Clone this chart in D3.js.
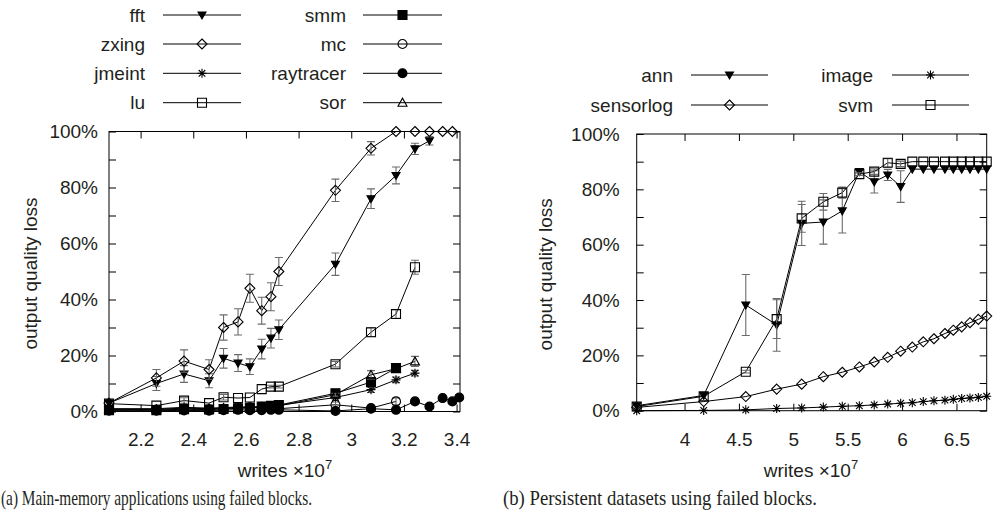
<!DOCTYPE html>
<html>
<head>
<meta charset="utf-8">
<script src="https://cdn.jsdelivr.net/npm/d3@7"></script>
<style>
body { margin: 0; background: #fff; }
svg { display: block; }
text { font-family: "Liberation Sans", Arial, sans-serif; fill: #231f20; }
.caption { font-family: "Liberation Serif", "Times New Roman", serif; }
</style>
</head>
<body>
<div id="chart"></div>
<script>
// ---- (a) main-memory applications ----
var writesMain = [2.08, 2.26, 2.365, 2.46, 2.515, 2.57, 2.615, 2.66, 2.695, 2.725, 2.94, 3.075, 3.17, 3.242, 3.297, 3.347, 3.384, 3.41];
var fftLoss = [3, 10, 13.4, 11, 19, 17.3, 16, 22.3, 26.2, 29.2, 52.6, 76, 84.3, 93.8, 96.7];
var fftErr = [0, 2.5, 3, 2.5, 3.5, 3, 2.8, 3.5, 3.5, 3.5, 4, 3.5, 3, 2, 1.5];
var zxingLoss = [3, 12, 18, 15, 30, 32, 44, 36, 41, 50, 79, 94, 100, 100, 100, 100, 100];
var zxingErr = [0, 3, 4, 3.5, 4.5, 4.7, 5, 4.8, 5, 5, 4, 2.4, 0, 0, 0, 0, 0];
var jmeintLoss = [1, 1, 1.5, 1.2, 1.4, 1.6, 1.6, 1.8, 2, 2.2, 5, 7.8, 11.3, 13.7];
var jmeintErr = [0, 0, 0, 0, 0, 0, 0, 0, 0, 0, 0.5, 1, 1, 1];
var luLoss = [2.8, 2.1, 3.9, 3, 5.1, 4.8, 5, 8, 8.9, 8.9, 16.9, 28.3, 34.8, 51.5];
var luErr = [0, 0, 1, 0, 1, 0, 0, 0, 0.5, 0.5, 1, 1.5, 1.5, 2.5];
var smmLoss = [0.5, 0.5, 0.8, 0.7, 0.9, 1.1, 1.3, 1.8, 2, 2.3, 6.5, 10.5, 15.5];
var smmErr = [0, 0, 0, 0, 0, 0, 0, 0, 0, 0, 0.5, 1, 1];
var mcLoss = [0.8, 0.7, 1, 0.8, 1, 1.5, 1.5, 1.2, 1, 1, 2.4, 1.2, 3.6];
var mcErr = [0, 0, 0, 0, 0, 0, 0, 0, 0, 0, 1, 0.5, 1.2];
var raytracerLoss = [0.3, 0.3, 0.4, 0.3, 0.5, 0.6, 0.5, 0.5, 0.6, 0.6, 0.2, 1, 0.6, 3.6, 1.8, 4.8, 3.6, 5];
var sorLoss = [0.8, 0.8, 1.2, 1, 1.2, 1.3, 1.4, 1.6, 1.8, 2, 6, 13.1, 15.3, 17.9];
var sorErr = [0, 0, 0, 0, 0, 0, 0, 0, 0, 0, 0.5, 1.5, 0, 1.8];
var ticksMain = [2.2, 2.4, 2.6, 2.8, 3, 3.2, 3.4];

// ---- (b) persistent datasets ----
var writesPersist = [3.56, 4.176, 4.563, 4.847, 5.077, 5.276, 5.45, 5.607, 5.744, 5.868, 5.987, 6.094, 6.195, 6.293, 6.394, 6.471, 6.548, 6.624, 6.701, 6.778];
var annLoss = [1.8, 5.5, 38.2, 31, 67.7, 68.2, 72.2, 86.4, 82.7, 85.2, 81, 87.3, 87.3, 87.3, 87.3, 87.3, 87.3, 87.3, 87.3, 87.3];
var annErr = [0, 0, 11, 9.5, 8, 8, 8, 0.5, 4, 2, 5.7, 0, 0, 0, 0, 0, 0, 0, 0, 0];
var sensorlogLoss = [1.2, 3.3, 5.1, 7.8, 9.6, 12.3, 13.9, 15.8, 17.6, 19.3, 21.5, 23, 24.9, 26, 27.9, 29.1, 30.3, 31.8, 33, 34.2];
var imageLoss = [0, 0.1, 0.3, 0.8, 1.0, 1.3, 1.6, 1.8, 2.1, 2.4, 2.7, 2.9, 3.3, 3.6, 3.8, 4.1, 4.4, 4.6, 4.8, 5.2];
var svmLoss = [1.5, 5.2, 14.1, 33.1, 69.5, 75.5, 78.8, 85.5, 86.4, 89.6, 89.2, 90, 90, 90, 90, 90, 90, 90, 90, 90];
var svmErr = [0, 0, 0.5, 7, 5, 3, 2, 0.5, 1, 1.5, 1, 0, 0, 0, 0, 0, 0, 0, 0, 0];
var ticksPersist = [4, 4.5, 5, 5.5, 6, 6.5];

var yTicks = [0, 10, 20, 30, 40, 50, 60, 70, 80, 90, 100];

var svg = d3.select("#chart").append("svg")
    .attr("width", 993)
    .attr("height", 518);

// marker paths, gnuplot-ish point types
var markers = {
    triDown:  {d: "M-4,-3L4,-3L0,4Z", fill: "#000"},
    diamond:  {d: "M0,-5L5,0L0,5L-5,0Z", fill: "none"},
    star:     {d: "M-4.5,0H4.5M0,-4.5V4.5M-3.3,-3.3L3.3,3.3M-3.3,3.3L3.3,-3.3", fill: "none"},
    square:   {d: "M-4.5,-4.5H4.5V4.5H-4.5Z", fill: "none"},
    squareF:  {d: "M-4.5,-4.5H4.5V4.5H-4.5Z", fill: "#000"},
    circle:   {d: "M4.5,0A4.5,4.5 0 1,1 -4.5,0A4.5,4.5 0 1,1 4.5,0Z", fill: "none"},
    circleF:  {d: "M4.5,0A4.5,4.5 0 1,1 -4.5,0A4.5,4.5 0 1,1 4.5,0Z", fill: "#000"},
    triUp:    {d: "M-4.5,3.5L4.5,3.5L0,-4.5Z", fill: "none"}
};

function addMarker(g, type, px, py) {
    g.append("path")
        .attr("d", markers[type].d)
        .attr("transform", "translate(" + px + "," + py + ")")
        .attr("fill", markers[type].fill)
        .attr("stroke", "#000")
        .attr("stroke-width", 1.1);
}

function drawPanel(p) {
    var x = d3.scaleLinear().domain(p.xDomain).range([p.left, p.right]);
    var y = d3.scaleLinear().domain([0, 100]).range([p.bottom, p.top]);
    var g = svg.append("g");

    // axes, ticks pointing inward on all four sides
    g.append("g")
        .attr("transform", "translate(0," + p.bottom + ")")
        .call(d3.axisBottom(x).tickValues(p.xTicks).tickSizeInner(-7).tickSizeOuter(0).tickPadding(21.5)
            .tickFormat(function(d) { return String(d); }))
        .call(styleAxis);
    g.append("g")
        .attr("transform", "translate(0," + p.top + ")")
        .call(d3.axisTop(x).tickValues(p.xTicks).tickSizeInner(-7).tickSizeOuter(0).tickFormat(""))
        .call(styleAxis);
    g.append("g")
        .attr("transform", "translate(" + p.left + ",0)")
        .call(d3.axisLeft(y).tickValues(yTicks).tickSizeInner(-7).tickSizeOuter(0).tickPadding(p.yPad)
            .tickFormat(function(d) { return d % 20 === 0 ? d + "%" : ""; }))
        .call(styleAxis);
    g.append("g")
        .attr("transform", "translate(" + p.right + ",0)")
        .call(d3.axisRight(y).tickValues(yTicks).tickSizeInner(-7).tickSizeOuter(0).tickFormat(""))
        .call(styleAxis);

    g.append("rect")
        .attr("x", p.left).attr("y", p.top)
        .attr("width", p.right - p.left).attr("height", p.bottom - p.top)
        .attr("fill", "none").attr("stroke", "#000").attr("stroke-width", 1);

    // axis titles
    g.append("text")
        .attr("transform", "translate(" + p.yTitleX + "," + ((p.top + p.bottom) / 2 + 2) + ") rotate(-90)")
        .attr("text-anchor", "middle")
        .attr("dy", "0.35em")
        .style("font-size", "19px")
        .text("output quality loss");

    var xt = g.append("text")
        .attr("x", p.xTitleX).attr("y", 477)
        .attr("text-anchor", "middle")
        .style("font-size", "19px")
        .text("writes \u00d710");
    xt.append("tspan").attr("dy", -8).style("font-size", "13px").text("7");

    g.append("text")
        .attr("class", "caption")
        .attr("x", p.capX).attr("y", 505)
        .attr("textLength", p.capW)
        .attr("lengthAdjust", "spacingAndGlyphs")
        .style("font-size", "21px")
        .text(p.caption);

    // series
    var line = d3.line()
        .x(function(d) { return x(d[0]); })
        .y(function(d) { return y(d[1]); });

    p.series.forEach(function(s) {
        var pts = s.vals.map(function(v, i) { return [p.xs[i], v, s.err ? s.err[i] : 0]; });
        g.append("path")
            .datum(pts)
            .attr("d", line)
            .attr("fill", "none")
            .attr("stroke", "#000")
            .attr("stroke-width", 1);
        pts.forEach(function(d) {
            if (d[2] > 0) {
                var px = x(d[0]), y0 = y(d[1] - d[2]), y1 = y(d[1] + d[2]);
                g.append("path")
                    .attr("d", "M" + px + "," + y0 + "V" + y1 +
                        "M" + (px - 4) + "," + y0 + "H" + (px + 4) +
                        "M" + (px - 4) + "," + y1 + "H" + (px + 4))
                    .attr("stroke", "#6b6b6b")
                    .attr("stroke-width", 1.1)
                    .attr("fill", "none");
            }
        });
        pts.forEach(function(d) { addMarker(g, s.marker, x(d[0]), y(d[1])); });
    });

    // legend
    p.series.forEach(function(s, i) {
        var col = p.legend.cols[Math.floor(i / p.legend.perCol)];
        var ly = p.legend.rows[i % p.legend.perCol];
        g.append("text")
            .attr("x", col.textEnd).attr("y", ly + 6.5)
            .attr("text-anchor", "end")
            .style("font-size", "19px")
            .text(s.name);
        g.append("line")
            .attr("x1", col.l1).attr("x2", col.l2)
            .attr("y1", ly).attr("y2", ly)
            .attr("stroke", "#000").attr("stroke-width", 1);
        addMarker(g, s.marker, (col.l1 + col.l2) / 2, ly);
    });
}

function styleAxis(sel) {
    sel.select(".domain").remove();
    sel.selectAll(".tick line").attr("stroke", "#000").attr("stroke-width", 1);
    sel.selectAll(".tick text")
        .style("font-size", "19px")
        .style("font-family", "'Liberation Sans', Arial, sans-serif")
        .attr("fill", "#231f20");
}

drawPanel({
    left: 109, right: 460, top: 131.5, bottom: 411.5,
    xDomain: [2.08, 3.413], xTicks: ticksMain, xs: writesMain,
    yPad: 11, yTitleX: 30, xTitleX: 285,
    caption: "(a) Main-memory applications using failed blocks.", capX: 1, capW: 311,
    series: [
        {name: "fft", vals: fftLoss, err: fftErr, marker: "triDown"},
        {name: "zxing", vals: zxingLoss, err: zxingErr, marker: "diamond"},
        {name: "jmeint", vals: jmeintLoss, err: jmeintErr, marker: "star"},
        {name: "lu", vals: luLoss, err: luErr, marker: "square"},
        {name: "smm", vals: smmLoss, err: smmErr, marker: "squareF"},
        {name: "mc", vals: mcLoss, err: mcErr, marker: "circle"},
        {name: "raytracer", vals: raytracerLoss, err: null, marker: "circleF"},
        {name: "sor", vals: sorLoss, err: sorErr, marker: "triUp"}
    ],
    legend: {
        perCol: 4,
        rows: [15, 44, 73.3, 102.7],
        cols: [{textEnd: 145, l1: 163, l2: 241}, {textEnd: 346, l1: 363, l2: 442}]
    }
});

drawPanel({
    left: 636.7, right: 986.7, top: 134, bottom: 410.7,
    xDomain: [3.56, 6.778], xTicks: ticksPersist, xs: writesPersist,
    yPad: 17, yTitleX: 545, xTitleX: 811,
    caption: "(b) Persistent datasets using failed blocks.", capX: 503, capW: 314,
    series: [
        {name: "ann", vals: annLoss, err: annErr, marker: "triDown"},
        {name: "sensorlog", vals: sensorlogLoss, err: null, marker: "diamond"},
        {name: "image", vals: imageLoss, err: null, marker: "star"},
        {name: "svm", vals: svmLoss, err: svmErr, marker: "square"}
    ],
    legend: {
        perCol: 2,
        rows: [75, 105],
        cols: [{textEnd: 673, l1: 691, l2: 768}, {textEnd: 873, l1: 892, l2: 969}]
    }
});
</script>
</body>
</html>
